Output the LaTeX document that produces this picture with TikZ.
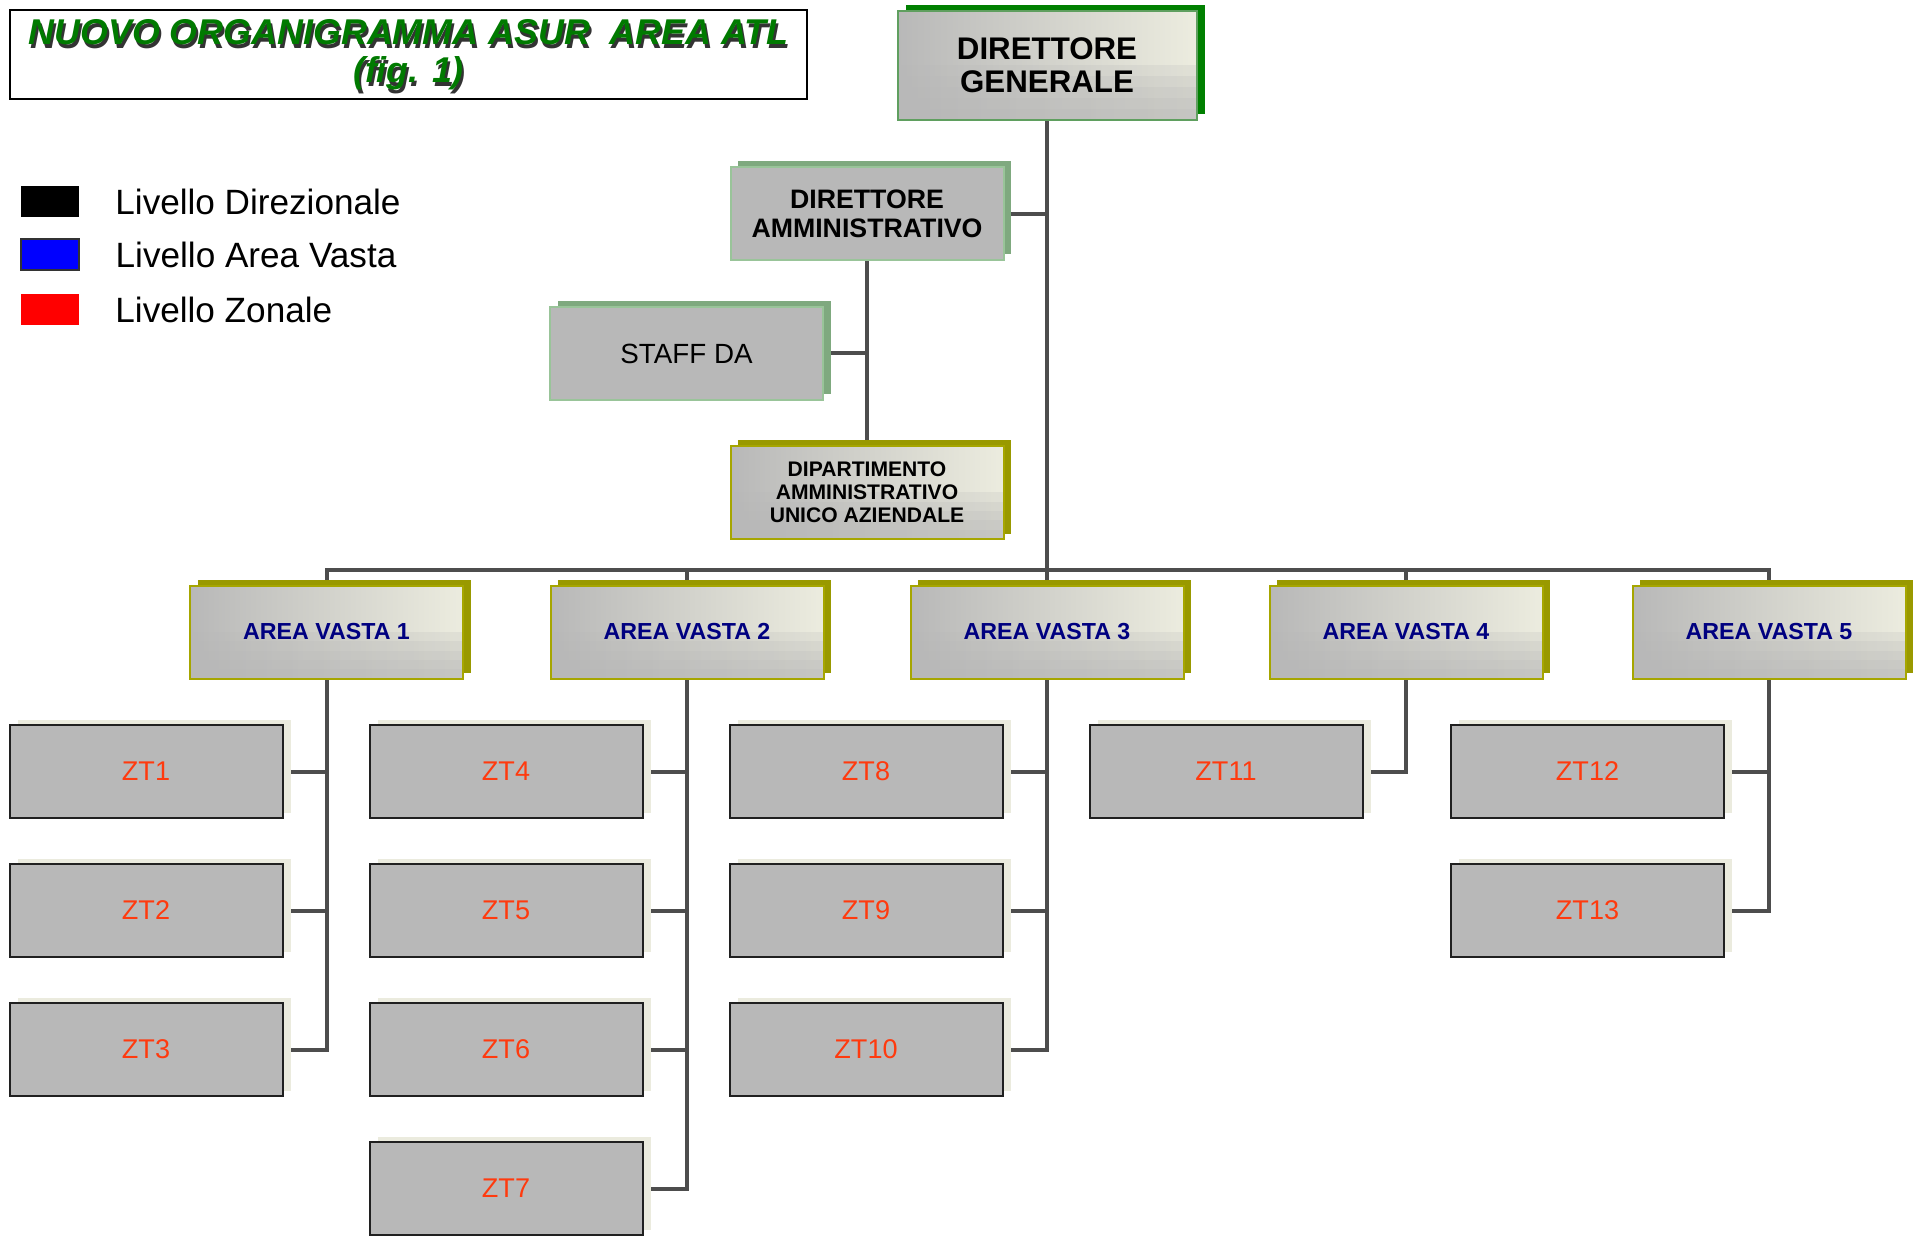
\documentclass[tikz,border=0pt]{standalone}
\usepackage{fontspec}
\setmainfont{Liberation Sans}
\usepackage{tikz}
\usetikzlibrary{positioning}
\usetikzlibrary{shadows, backgrounds, calc}
\definecolor{boxgray}{HTML}{B8B8B8}
\definecolor{cream}{HTML}{ECECDF}
\definecolor{dggreen}{HTML}{008000}
\definecolor{dgborder}{HTML}{5F9F5F}
\definecolor{dagreen}{HTML}{7FA97F}
\definecolor{daborder}{HTML}{99C499}
\definecolor{olive}{HTML}{999900}
\definecolor{oliveborder}{HTML}{A6A600}
\definecolor{ztshadow}{HTML}{EBEBDE}
\definecolor{ztborder}{HTML}{202020}
\definecolor{ztred}{HTML}{FF3A0E}
\definecolor{avblue}{HTML}{000080}
\definecolor{titlegreen}{HTML}{007A00}
\definecolor{linegray}{HTML}{4D4D4D}

\begin{document}
\begin{tikzpicture}[x=0.1mm, y=-0.1mm,
  line/.style = {line width=0.4mm, draw=linegray},
  card/.style = {rectangle, minimum width=27.3mm, minimum height=9.3mm,
  inner sep=0pt, align=center, line width=0.2mm},
  shiny/.style = {left color=boxgray, right color=cream,
  path picture={\foreach \f in {0.5,0.4,0.3,0.2,0.1}
  \fill[boxgray, fill opacity=0.22] (path picture bounding box.south west)
  rectangle ($(path picture bounding box.south east)!\f!(path picture bounding box.north east)$);}},
  dir/.style = {card, shiny, draw=dgborder, minimum width=29.9mm, minimum height=10.9mm,
  drop shadow={shadow xshift=0.8mm, shadow yshift=0.6mm, fill=dggreen, opacity=1},
  font=\fontsize{8.9pt}{9.4pt}\selectfont\bfseries},
  adm/.style = {card, fill=boxgray, draw=daborder,
  drop shadow={shadow xshift=0.75mm, shadow yshift=0.6mm, fill=dagreen, opacity=1},
  font=\fontsize{7.6pt}{8.3pt}\selectfont\bfseries},
  dept/.style = {card, shiny, draw=oliveborder,
  drop shadow={shadow xshift=0.75mm, shadow yshift=0.55mm, fill=olive, opacity=1},
  font=\fontsize{6pt}{6.5pt}\selectfont\bfseries},
  area/.style = {dept, text=avblue, font=\fontsize{6.6pt}{7pt}\selectfont\bfseries},
  zone/.style = {card, fill=boxgray, draw=ztborder, text=ztred,
  drop shadow={shadow xshift=0.8mm, shadow yshift=0.5mm, fill=ztshadow, opacity=1},
  font=\fontsize{7.7pt}{8pt}\selectfont},
  key/.style = {rectangle, minimum width=5.8mm, minimum height=3.1mm, inner sep=0pt},
  legend/.style = {inner sep=0pt, anchor=west, font=\fontsize{10pt}{11pt}\selectfont},
  titletext/.style = {align=center, inner sep=0pt,
  font=\fontsize{10.2pt}{10.8pt}\selectfont\bfseries\itshape}]
 \useasboundingbox (0,0) rectangle (1919,1235);

 % titolo e legenda
 \node[titletext, text=black!80] (titleshade) at (410.5,59) {NUOVO ORGANIGRAMMA ASUR\ \ AREA ATL\\(fig. 1)};
 \node[titletext, text=titlegreen, draw=black, line width=0.2mm,
  minimum width=79.7mm, minimum height=8.9mm] (title) at (408.5,54.5) {NUOVO ORGANIGRAMMA ASUR\ \ AREA ATL\\(fig. 1)};
 \node[key, fill=black] (keydir) at (50,201.5) {};
 \node[key, fill=blue, draw=black!80, line width=0.2mm] (keyav) at (50,254.5) {};
 \node[key, fill=red] (keyzt) at (50,309.5) {};
 \node[legend, right=3.5mm of keydir] (legdir) {Livello Direzionale};
 \node[legend, right=3.5mm of keyav] (legav) {Livello Area Vasta};
 \node[legend, right=3.5mm of keyzt] (legzt) {Livello Zonale};

 % direzione
 \node[dir] (dg) at (1047,65.5) {DIRETTORE\\GENERALE};
 \node[adm] (da) at (867,214) {DIRETTORE\\AMMINISTRATIVO};
 \node[adm, font=\fontsize{7.9pt}{8.3pt}\selectfont] (staff) at (686.5,353.5) {STAFF DA};
 \node[dept] (daua) at (867,492.5) {DIPARTIMENTO\\AMMINISTRATIVO\\UNICO AZIENDALE};
 \coordinate (bus) at (1047,570);

 % aree vaste
 \node[area] (av1) at (326.5,632) {AREA VASTA 1};
 \node[area] (av2) at (687,632) {AREA VASTA 2};
 \node[area] (av3) at (1047,632) {AREA VASTA 3};
 \node[area] (av4) at (1406,632) {AREA VASTA 4};
 \node[area] (av5) at (1769,632) {AREA VASTA 5};

 % zone territoriali
 \node[zone] (zt1) at (146,771.5) {ZT1};
 \node[zone, below=4.4mm of zt1] (zt2) {ZT2};
 \node[zone, below=4.4mm of zt2] (zt3) {ZT3};
 \node[zone] (zt4) at (506,771.5) {ZT4};
 \node[zone, below=4.4mm of zt4] (zt5) {ZT5};
 \node[zone, below=4.4mm of zt5] (zt6) {ZT6};
 \node[zone, below=4.4mm of zt6] (zt7) {ZT7};
 \node[zone] (zt8) at (866,771.5) {ZT8};
 \node[zone, below=4.4mm of zt8] (zt9) {ZT9};
 \node[zone, below=4.4mm of zt9] (zt10) {ZT10};
 \node[zone] (zt11) at (1226,771.5) {ZT11};
 \node[zone] (zt12) at (1587.5,771.5) {ZT12};
 \node[zone, below=4.4mm of zt12] (zt13) {ZT13};

 \begin{scope}[on background layer]
  \draw[line] (dg.south) -- (bus);
  \draw[line] (da.east) -- (da.east -| dg.south);
  \draw[line] (da.south) -- (daua.north);
  \draw[line] (staff.east) -- (staff.east -| da.south);
  \draw[line] (av1.north) |- (bus) -| (av5.north);
  \draw[line] (av2.north |- bus) -- (av2.north) (av3.north |- bus) -- (av3.north)
  (av4.north |- bus) -- (av4.north);
  \draw[line] (av1.south) |- (zt3.east) (zt1.east) -- (zt1.east -| av1.south)
  (zt2.east) -- (zt2.east -| av1.south);
  \draw[line] (av2.south) |- (zt7.east) (zt4.east) -- (zt4.east -| av2.south)
  (zt5.east) -- (zt5.east -| av2.south) (zt6.east) -- (zt6.east -| av2.south);
  \draw[line] (av3.south) |- (zt10.east) (zt8.east) -- (zt8.east -| av3.south)
  (zt9.east) -- (zt9.east -| av3.south);
  \draw[line] (av4.south) |- (zt11.east);
  \draw[line] (av5.south) |- (zt13.east) (zt12.east) -- (zt12.east -| av5.south);
 \end{scope}
\end{tikzpicture}
\end{document}
